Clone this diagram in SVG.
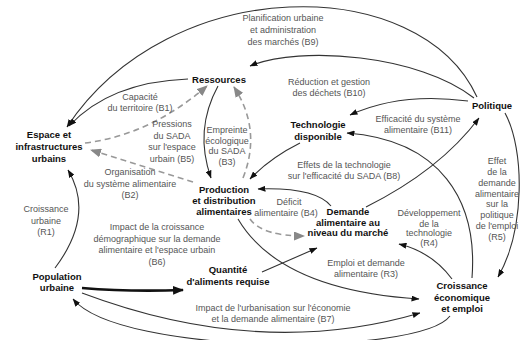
<svg xmlns="http://www.w3.org/2000/svg" width="520" height="340" viewBox="0 0 520 340">
<style>
.node{font-family:"Liberation Sans",Arial,sans-serif;font-size:9.5px;font-weight:bold;fill:#111;text-anchor:middle}
.lbl{font-family:"Liberation Sans",Arial,sans-serif;font-size:9px;fill:#555;text-anchor:middle}
.c{fill:none;stroke:#333;stroke-width:1.1}
.d{fill:none;stroke:#999;stroke-width:1.6;stroke-dasharray:6 4}
.thick{fill:none;stroke:#111;stroke-width:2.6}
</style>
<defs>
<marker id="a" markerUnits="userSpaceOnUse" markerWidth="8" markerHeight="6" refX="7.5" refY="3" orient="auto"><path d="M0,0 L8,3 L0,6 z" fill="#111"/></marker>
<marker id="g" markerUnits="userSpaceOnUse" markerWidth="11" markerHeight="9" refX="10" refY="4.5" orient="auto"><path d="M0,0 L11,4.5 L0,9 z" fill="#888"/></marker>
<marker id="t" markerUnits="userSpaceOnUse" markerWidth="11" markerHeight="9" refX="10" refY="4.5" orient="auto"><path d="M0,0 L11,4.5 L0,9 z" fill="#111"/></marker>
</defs>
<rect width="520" height="340" fill="#fff"/>
<g id="connectors">
<path class="c" d="M477,97 C 420,-28 170,-28 67,127" marker-end="url(#a)"/>
<path class="c" d="M474,98 C 420,55 300,45 250,66" marker-end="url(#a)"/>
<path class="c" d="M468,101 Q 400,92 350,115" marker-end="url(#a)"/>
<path class="c" d="M188,79 Q 110,82 69,126" marker-end="url(#a)"/>
<path class="d" d="M85,143 Q 150,135 207,86" marker-end="url(#g)"/>
<path class="d" d="M193,182 L 91,150" marker-end="url(#g)"/>
<path class="c" d="M218,86 Q 194,130 211,178" marker-end="url(#a)"/>
<path class="d" d="M243,178 Q 262,130 234,87" marker-end="url(#g)"/>
<path class="c" d="M300,143 Q 270,158 250,179" marker-end="url(#a)"/>
<path class="c" d="M331,206 Q 315,187 258,189" marker-end="url(#a)"/>
<path class="c" d="M366,207 Q 440,170 479,118" marker-end="url(#a)"/>
<path class="c" d="M472,278 C 478,200 440,140 347,133" marker-end="url(#a)"/>
<path class="c" d="M505,113 C 525,150 525,230 498,277" marker-end="url(#a)"/>
<path class="c" d="M452,279 Q 432,252 399,244" marker-end="url(#a)"/>
<path class="d" d="M250,219 Q 262,236 304,236" marker-end="url(#g)"/>
<path class="c" d="M238,219 Q 280,290 419,299" marker-end="url(#a)"/>
<path class="c" d="M262,272 L 317,248" marker-end="url(#a)"/>
<path class="thick" d="M82,288 Q 130,292 183,290" marker-end="url(#t)"/>
<path class="c" d="M55,268 Q 95,215 68,170" marker-end="url(#a)"/>
<path class="c" d="M82,293 Q 260,360 420,313" marker-end="url(#a)"/>
<path class="c" d="M450,316 C 420,356 120,356 73,299" marker-end="url(#a)"/>
</g>
<g id="labels">
<text class="lbl" x="283"><tspan x="283" y="21">Planification urbaine</tspan><tspan x="283" y="33">et administration</tspan><tspan x="283" y="44.5">des marchés (B9)</tspan></text>
<text class="lbl" x="140"><tspan x="140" y="100">Capacité</tspan><tspan x="140" y="110.5">du territoire (B1)</tspan></text>
<text class="lbl" x="329"><tspan x="329" y="85">Réduction et gestion</tspan><tspan x="329" y="95.5">des déchets (B10)</tspan></text>
<text class="lbl" x="172"><tspan x="172" y="127">Pressions</tspan><tspan x="172" y="138.5">du SADA</tspan><tspan x="172" y="150">sur l'espace</tspan><tspan x="172" y="161.5">urbain (B5)</tspan></text>
<text class="lbl" x="227"><tspan x="227" y="133">Empreinte</tspan><tspan x="227" y="143.5">écologique</tspan><tspan x="227" y="154">du SADA</tspan><tspan x="227" y="164.5">(B3)</tspan></text>
<text class="lbl" x="130"><tspan x="130" y="175">Organisation</tspan><tspan x="130" y="186.5">du système alimentaire</tspan><tspan x="130" y="198">(B2)</tspan></text>
<text class="lbl" x="46"><tspan x="46" y="212">Croissance</tspan><tspan x="46" y="223.5">urbaine</tspan><tspan x="46" y="235">(R1)</tspan></text>
<text class="lbl" x="418"><tspan x="418" y="122">Efficacité du système</tspan><tspan x="418" y="132.5">alimentaire (B11)</tspan></text>
<text class="lbl" x="344"><tspan x="344" y="168">Effets de la technologie</tspan><tspan x="344" y="178.5">sur l'efficacité du SADA (B8)</tspan></text>
<text class="lbl" x="287"><tspan x="289" y="205">Déficit</tspan><tspan x="286" y="215.5">alimentaire (B4)</tspan></text>
<text class="lbl" x="429"><tspan x="429" y="216">Développement</tspan><tspan x="429" y="226.5">de la</tspan><tspan x="429" y="236">technologie</tspan><tspan x="429" y="246">(R4)</tspan></text>
<text class="lbl" x="497"><tspan x="497" y="164">Effet</tspan><tspan x="497" y="175">de la</tspan><tspan x="497" y="186">demande</tspan><tspan x="497" y="196.5">alimentaire</tspan><tspan x="497" y="207">sur la</tspan><tspan x="497" y="218">politique</tspan><tspan x="497" y="229">de l'emploi</tspan><tspan x="497" y="239.5">(R5)</tspan></text>
<text class="lbl" x="157"><tspan x="157" y="230">Impact de la croissance</tspan><tspan x="157" y="241.5">démographique sur la demande</tspan><tspan x="157" y="253">alimentaire et l'espace urbain</tspan><tspan x="157" y="264.5">(B6)</tspan></text>
<text class="lbl" x="366"><tspan x="366" y="266">Emploi et demande</tspan><tspan x="366" y="276.5">alimentaire (R3)</tspan></text>
<text class="lbl" x="273"><tspan x="273" y="311">Impact de l'urbanisation sur l'économie</tspan><tspan x="273" y="322">et la demande alimentaire (B7)</tspan></text>
</g>
<g id="ressources"><text class="node" x="219" y="83.3">Ressources</text></g>
<g id="espace"><text class="node"><tspan x="49" y="138.3">Espace et</tspan><tspan x="49" y="150.3">infrastructures</tspan><tspan x="49" y="162.3">urbains</tspan></text></g>
<g id="technologie"><text class="node"><tspan x="318" y="128">Technologie</tspan><tspan x="318" y="139.5">disponible</tspan></text></g>
<g id="politique"><text class="node" x="492" y="109.3">Politique</text></g>
<g id="production"><text class="node"><tspan x="224" y="193.3">Production</tspan><tspan x="224" y="204.3">et distribution</tspan><tspan x="224" y="215.3">alimentaires</tspan></text></g>
<g id="demande"><text class="node"><tspan x="348" y="215.3">Demande</tspan><tspan x="348" y="225.8">alimentaire au</tspan><tspan x="348" y="236.3">niveau du marché</tspan></text></g>
<g id="quantite"><text class="node"><tspan x="228" y="273.3">Quantité</tspan><tspan x="228" y="285.3">d'aliments requise</tspan></text></g>
<g id="population"><text class="node"><tspan x="57" y="280.3">Population</tspan><tspan x="57" y="291.3">urbaine</tspan></text></g>
<g id="croissance"><text class="node"><tspan x="462" y="289.3">Croissance</tspan><tspan x="462" y="301.3">économique</tspan><tspan x="462" y="312.3">et emploi</tspan></text></g>
</svg>
